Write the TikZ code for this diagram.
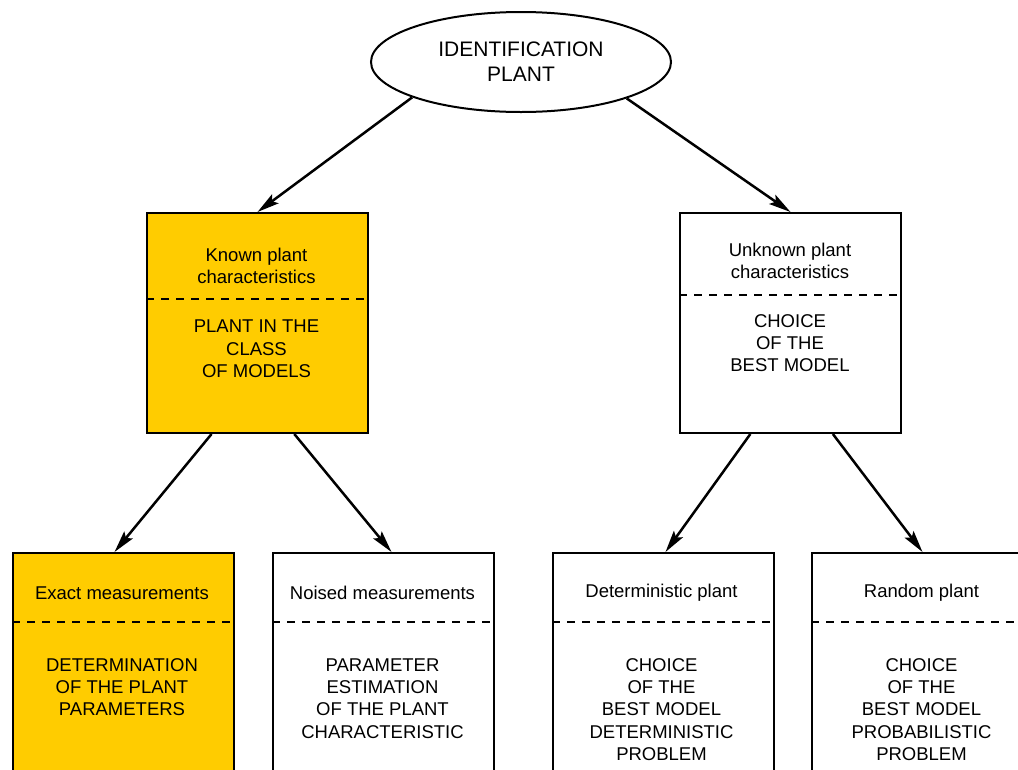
\documentclass[tikz,border=0pt]{standalone}
\usepackage{fontspec}
\setmainfont{Liberation Sans}
\usetikzlibrary{arrows.meta,calc,shapes.geometric}
\definecolor{gold}{HTML}{FFCC00}
\begin{document}
\begin{tikzpicture}[x=1pt,y=-1pt,
  boxframe/.style={draw,line width=2pt,minimum width=221pt,inner sep=0pt,anchor=north west},
  upperbox/.style={boxframe,minimum height=220pt},
  lowerbox/.style={boxframe,minimum height=250pt},
  divider/.style={line width=2pt,dash pattern=on 8pt off 7pt},
  txt/.style={align=center,inner sep=0pt,font=\fontsize{18.5}{22.3}\selectfont},
  conn/.style={line width=2.5pt,-{Stealth[length=22pt,width=11pt,inset=4pt]}}]
\useasboundingbox (0,0) rectangle (1018,769);
\clip (0,0) rectangle (1018,769);
\fill[white] (0,0) rectangle (1018,769);
% top ellipse
\node[draw,ellipse,line width=2pt,minimum width=300pt,minimum height=100pt,inner sep=0pt,
      align=center,font=\fontsize{21}{25}\selectfont] (top) at (521,62) {IDENTIFICATION\\PLANT};
% middle boxes
\node[upperbox,fill=gold] (known) at (146,212) {};
\node[upperbox] (unknown) at (679,212) {};
% bottom boxes
\node[lowerbox,fill=gold] (exact) at (12,552) {};
\node[lowerbox] (noised) at (272,552) {};
\node[lowerbox] (determ) at (552,552) {};
\node[lowerbox] (random) at (811,552) {};
% dividers
\draw[divider] ($(known.north west)+(0,87)$) -- ($(known.north east)+(0,87)$);
\draw[divider] ($(unknown.north west)+(0,83)$) -- ($(unknown.north east)+(0,83)$);
\foreach \b in {exact,noised,determ,random}
  \draw[divider] ($(\b.north west)+(0,70)$) -- ($(\b.north east)+(0,70)$);
% texts
\node[txt] (knownT) at (256.5,266) {Known plant\\characteristics};
\node[txt] (knownB) at (256.5,349) {PLANT IN THE\\CLASS\\OF MODELS};
\node[txt] (unknownT) at (790,261) {Unknown plant\\characteristics};
\node[txt] (unknownB) at (790,343) {CHOICE\\OF THE\\BEST MODEL};
\node[txt] (exactT) at (122,593) {Exact measurements};
\node[txt] (exactB) at (122,687) {DETERMINATION\\OF THE PLANT\\PARAMETERS};
\node[txt] (noisedT) at (382.5,593) {Noised measurements};
\node[txt] (noisedB) at (382.5,698.5) {PARAMETER\\ESTIMATION\\OF THE PLANT\\CHARACTERISTIC};
\node[txt] (determT) at (661.5,593) {Deterministic plant};
\node[txt] (determB) at (661.5,709.5) {CHOICE\\OF THE\\BEST MODEL\\DETERMINISTIC\\PROBLEM};
\node[txt] (randomT) at (921.5,593) {Random plant};
\node[txt] (randomB) at (921.5,709.5) {CHOICE\\OF THE\\BEST MODEL\\PROBABILISTIC\\PROBLEM};
% connectors
\draw[conn] (top.198.8) -- (known.north);
\draw[conn] (top.341.4) -- (unknown.north);
\draw[conn] ($(known.south west)!0.294!(known.south east)$) -- ($(exact.north)+(-9,0)$);
\draw[conn] ($(known.south west)!0.665!(known.south east)$) -- ($(noised.north)+(8,0)$);
\draw[conn] ($(unknown.south west)!0.32!(unknown.south east)$) -- ($(determ.north)+(2,0)$);
\draw[conn] ($(unknown.south west)!0.69!(unknown.south east)$) -- (random.north);
\end{tikzpicture}
\end{document}
